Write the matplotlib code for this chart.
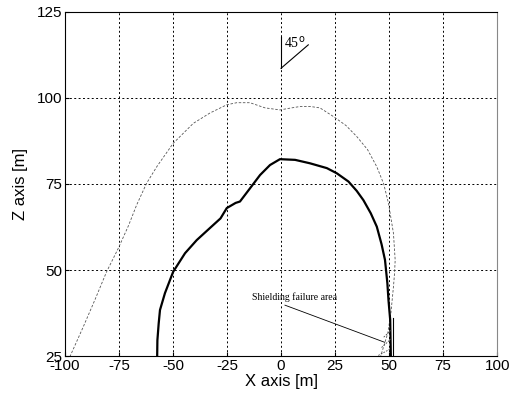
import numpy as np
from matplotlib import pyplot as plt

plt.rcParams['axes.unicode_minus'] = False

# protected zone boundary (solid)
zona_x = [-57.3, -57.2, -56.6, -56.0, -53.7, -49.9, -44.4, -39.0, -32.9, -28.0,
          -25.1, -21.0, -19.0, -14.4, -9.7, -5.1, -0.5, 6.5, 13.4, 21.2,
          25.8, 31.2, 35.0, 38.1, 41.5, 44.3, 46.5, 48.1, 49.2, 49.7, 50.5, 50.8]
zona_z = [25.0, 29.6, 34.5, 38.4, 43.3, 49.5, 54.9, 58.7, 62.2, 65.0,
          68.0, 69.5, 69.9, 73.7, 77.6, 80.5, 82.2, 82.0, 81.0, 79.6,
          78.1, 75.7, 73.0, 70.3, 66.5, 62.6, 57.5, 52.9, 46.1, 41.3, 35.5, 25.0]

# striking distance envelope (dashed)
omot_x = [-97.7, -91.5, -86.0, -80.7, -75.3, -70.5, -66.8, -62.2, -57.5, -49.9,
          -40.6, -32.9, -25.1, -20.5, -14.4, -7.4, -0.5, 4.0, 8.8, 13.5, 18.0,
          24.2, 30.0, 35.0, 40.0, 44.3, 47.5, 49.7, 52.0, 52.8, 52.5, 52.0,
          50.8, 49.4, 45.8]
omot_z = [24.8, 33.5, 41.5, 49.5, 56.3, 63.0, 68.9, 75.2, 80.0, 86.8,
          92.6, 95.6, 98.0, 98.6, 98.6, 97.1, 96.5, 97.0, 97.5, 97.5, 97.1,
          94.6, 92.0, 88.8, 85.0, 80.0, 75.0, 69.4, 60.7, 52.9, 49.0, 45.1,
          37.4, 31.7, 24.4]

# hatch strokes in the failure area
srafura = [([45.0, 50.9], [25.2, 27.2]),
           ([46.5, 50.9], [27.5, 30.0]),
           ([47.5, 50.9], [30.5, 32.5])]

fig = plt.figure(figsize=(5.19, 4.07), dpi=100)
ax = fig.add_axes([0.125, 0.125, 0.833, 0.846])

ax.plot(omot_x, omot_z, color='#555555', lw=0.6, ls=(0, (3, 2)))
ax.plot(zona_x, zona_z, color='black', lw=1.6)
ax.plot([51.6, 51.6], [25, 36], color='black', lw=0.8)
for sx, sz in srafura:
    ax.plot(sx, sz, color='#444444', lw=0.6, ls=(0, (2, 1.5)))

# 45 degree marker
ax.plot([0, 0], [108.6, 117.8], color='black', lw=0.8)
ax.plot([0, 12.6], [108.6, 115.4], color='black', lw=0.8)
ax.text(1.5, 114.5, '45$^{\\rm o}$', family='Liberation Serif', fontsize=10)

ax.annotate('Shielding failure area', xy=(48, 29), xytext=(-13.5, 41.2),
            family='Liberation Serif', fontsize=7,
            arrowprops=dict(arrowstyle='-', color='black', lw=0.6,
                            shrinkA=0, shrinkB=0, relpos=(0.3, 0)))

ax.set_xlim(-100, 100)
ax.set_ylim(25, 125)
ax.set_xticks(np.arange(-100, 101, 25))
ax.set_yticks(np.arange(25, 126, 25))
ax.grid(True, color='black', ls=(0, (2, 2.5)), lw=0.7)
ax.tick_params(direction='in', length=3, labelsize=11, pad=2)
for lbl in ax.get_xticklabels() + ax.get_yticklabels():
    lbl.set_family('Liberation Sans')

ax.spines['right'].set_color('#888888')
ax.spines['top'].set_linestyle((0, (2, 1)))
ax.set_xlabel('X axis [m]', family='Liberation Sans', fontsize=12, labelpad=1)
ax.set_ylabel('Z axis [m]', family='Liberation Sans', fontsize=12, labelpad=6)

fig.savefig('out.png', dpi=100)
